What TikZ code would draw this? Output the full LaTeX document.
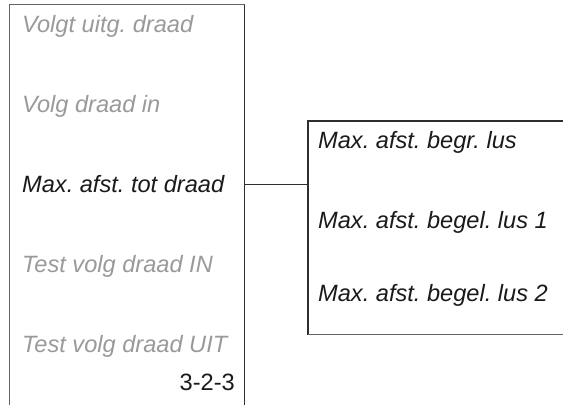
\documentclass[tikz,border=0pt]{standalone}
\usepackage{fontspec}
\setmainfont{Liberation Sans}
\frenchspacing
\definecolor{txtgray}{HTML}{9A9A9A}
\definecolor{txtblack}{HTML}{1A1A1A}
\definecolor{linedark}{HTML}{2E2E2E}
\definecolor{linegray}{HTML}{646464}
\begin{document}
\begin{tikzpicture}[x=1pt,y=-1pt,
  itemtext/.style={anchor=base west,inner sep=0pt,font=\fontsize{23.6}{28}\selectfont\itshape},
  inactive/.style={itemtext,text=txtgray},
  active/.style={itemtext,text=txtblack},
  frame/.style={line width=1.6pt,color=linedark},
  framegray/.style={line width=1.6pt,color=linegray}]
\useasboundingbox[fill=white] (0,0) rectangle (563,405);
% left box
\coordinate (LTL) at (9.5,4.5);
\coordinate (LTR) at (244.5,4.5);
\coordinate (LBL) at (9.5,405);
\coordinate (LBR) at (244.5,405);
\draw[framegray] (LBL) -- (LTL) -- (LTR);
\draw[frame] (LTR) -- (LBR);
% right box
\coordinate (RTL) at (308,121);
\coordinate (RTR) at (563,121);
\coordinate (RBL) at (308,334.5);
\coordinate (RBR) at (563,334.5);
\draw[frame] (RTR) -- (RTL) -- (RBL);
\draw[framegray] (RBL) -- (RBR);
% left items
\node[inactive] (a1) at (22,32) {Volgt uitg. draad};
\node[inactive] (a2) at (22,112) {Volg draad in};
\node[active] (a3) at (22,192) {Max. afst. tot draad};
\node[inactive] (a4) at (22,272) {Test volg draad IN};
\node[inactive] (a5) at (22,352) {Test volg draad UIT};
\node[anchor=base east,inner sep=0pt,text=txtblack,font=\fontsize{23.6}{28}\selectfont] (pg) at (235,390) {3-2-3};
% right items
\node[active] (b1) at (318,148) {Max. afst. begr. lus};
\node[active] (b2) at (318,228) {Max. afst. begel. lus 1};
\node[active] (b3) at (318,301) {Max. afst. begel. lus 2};
% connector
\coordinate (c1) at (244.5,184.5);
\coordinate (c2) at (308,184.5);
\draw[frame,line width=1.4pt] (c1) -- (c2);
\end{tikzpicture}
\end{document}
